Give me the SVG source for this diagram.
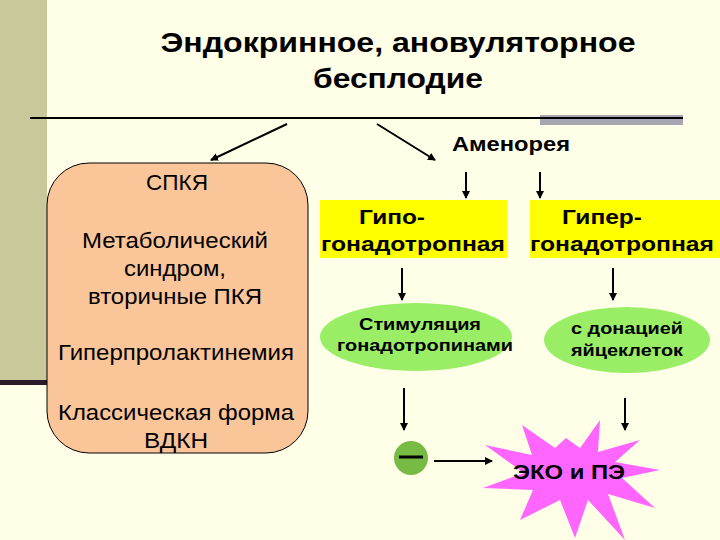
<svg xmlns="http://www.w3.org/2000/svg" width="720" height="540" viewBox="0 0 720 540">
<defs>
<marker id="ah" markerWidth="8" markerHeight="8" refX="7" refY="4" orient="auto" markerUnits="userSpaceOnUse"><path d="M0,0 L8,4 L0,8 z" fill="#000"/></marker>
<style>
.t{font-family:"Liberation Sans",Arial,sans-serif;fill:#000;text-anchor:middle}
.b{font-weight:bold}
.c line{stroke:#000;stroke-width:2;marker-end:url(#ah)}
</style>
</defs>
<rect width="720" height="540" fill="#ffffe8"/>
<rect x="0" y="0" width="47" height="383" fill="#c8c89a"/>
<rect x="0" y="380" width="47" height="5" fill="#2a1a2a"/>
<rect x="540" y="115" width="143" height="10" fill="#a6a6b0"/>
<line x1="30" y1="118" x2="683" y2="118" stroke="#000" stroke-width="2"/>
<g id="title"><text class="t b" x="398" y="52" font-size="27" textLength="475" lengthAdjust="spacingAndGlyphs">Эндокринное, ановуляторное</text><text class="t b" x="398" y="88" font-size="27" textLength="170" lengthAdjust="spacingAndGlyphs">бесплодие</text></g>
<g id="amen"><text class="t b" x="511" y="151" font-size="20" textLength="118" lengthAdjust="spacingAndGlyphs">Аменорея</text></g>
<g id="spkya">
<rect x="47" y="163" width="261" height="290" rx="42" fill="#fac598" stroke="#000" stroke-width="1"/>
<g class="t" font-size="22"><text x="177" y="190" textLength="62" lengthAdjust="spacingAndGlyphs">СПКЯ</text><text x="175" y="248" textLength="186" lengthAdjust="spacingAndGlyphs">Метаболический</text><text x="175" y="276" textLength="102" lengthAdjust="spacingAndGlyphs">синдром,</text><text x="175" y="304" textLength="174" lengthAdjust="spacingAndGlyphs">вторичные ПКЯ</text><text x="176" y="360" textLength="236" lengthAdjust="spacingAndGlyphs">Гиперпролактинемия</text><text x="176" y="420" textLength="236" lengthAdjust="spacingAndGlyphs">Классическая форма</text><text x="176" y="448" textLength="64" lengthAdjust="spacingAndGlyphs">ВДКН</text></g>
</g>
<g id="hypo"><rect x="320" y="200" width="187" height="58" fill="#ffff00"/><text class="t b" x="392" y="224" font-size="21" textLength="66" lengthAdjust="spacingAndGlyphs">Гипо-</text><text class="t b" x="413" y="251" font-size="21" textLength="184" lengthAdjust="spacingAndGlyphs">гонадотропная</text></g>
<g id="hyper"><rect x="530" y="200" width="190" height="58" fill="#ffff00"/><text class="t b" x="602" y="224" font-size="21" textLength="80" lengthAdjust="spacingAndGlyphs">Гипер-</text><text class="t b" x="622" y="251" font-size="21" textLength="184" lengthAdjust="spacingAndGlyphs">гонадотропная</text></g>
<g id="stim"><ellipse cx="416" cy="337" rx="96" ry="34" fill="#99ee66"/><text class="t b" x="420" y="330" font-size="17" textLength="122" lengthAdjust="spacingAndGlyphs">Стимуляция</text><text class="t b" x="425" y="351" font-size="17" textLength="176" lengthAdjust="spacingAndGlyphs">гонадотропинами</text></g>
<g id="don"><ellipse cx="627" cy="340" rx="83" ry="33" fill="#99ee66"/><text class="t b" x="627" y="334" font-size="17" textLength="112" lengthAdjust="spacingAndGlyphs">с донацией</text><text class="t b" x="627" y="356" font-size="17" textLength="112" lengthAdjust="spacingAndGlyphs">яйцеклеток</text></g>
<g id="minus"><circle cx="411" cy="458" r="17" fill="#77bb44"/><line x1="399" y1="457" x2="423" y2="457" stroke="#000" stroke-width="3"/></g>
<g id="eko"><polygon points="660,470 622,478 655,508 608,494 625,540 588,500 575,538 560,500 520,520 533,490 483,488 524,473 485,445 532,455 522,425 555,448 566,438 580,448 600,420 598,452 640,440 615,462" fill="#ff66ff"/><text class="t b" x="569" y="479" font-size="20" textLength="112" lengthAdjust="spacingAndGlyphs">ЭКО и ПЭ</text></g>
<g class="c">
<line x1="287" y1="124" x2="211" y2="160"/>
<line x1="377" y1="124" x2="435" y2="160"/>
<line x1="466" y1="172" x2="466" y2="198"/>
<line x1="540" y1="172" x2="540" y2="198"/>
<line x1="402" y1="268" x2="402" y2="300"/>
<line x1="613" y1="268" x2="613" y2="300"/>
<line x1="404" y1="388" x2="404" y2="430"/>
<line x1="625" y1="398" x2="625" y2="430"/>
<line x1="434" y1="461" x2="492" y2="461"/>
</g>
</svg>
